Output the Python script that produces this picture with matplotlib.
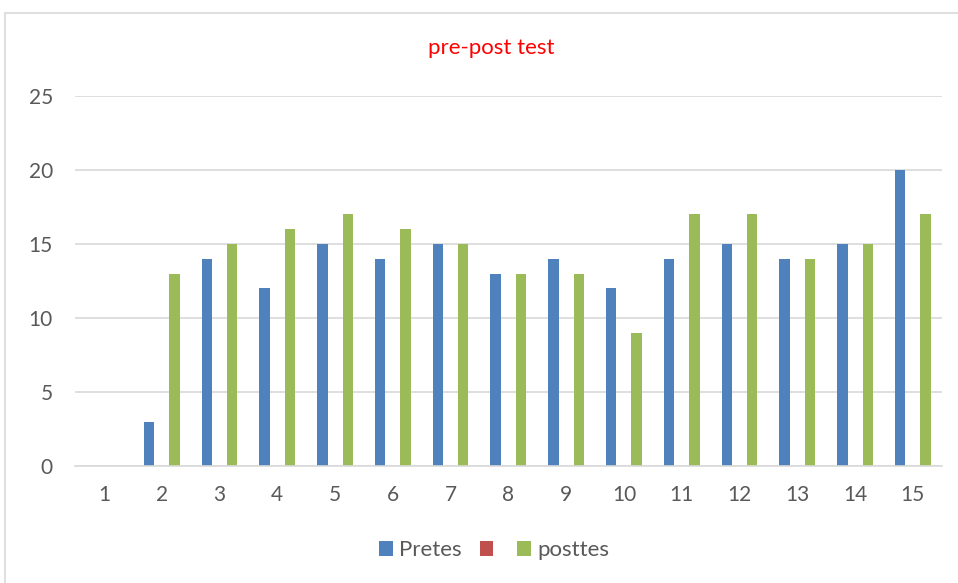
import numpy as np
import matplotlib.pyplot as plt
from matplotlib.patches import Rectangle

categories = [str(i) for i in range(1, 16)]
pretes = [0, 3, 14, 12, 15, 14, 15, 13, 14, 12, 14, 15, 14, 15, 20]
unnamed = [0] * 15
posttes = [0, 13, 15, 16, 17, 16, 15, 13, 13, 9, 17, 17, 14, 15, 17]
series_labels = ['Pretes', '', 'posttes']


def main():
    plt.rcParams['font.family'] = ['Lato', 'DejaVu Sans']
    fig = plt.figure(figsize=(9.58, 5.83), dpi=100)
    ax = fig.add_axes([0.0783, 0.2007, 0.9047, 0.6346])

    # outer chart border
    fig.patches.append(Rectangle((5 / 958, -0.01), 1.0, 1 - 13 / 583 + 0.01,
                                 transform=fig.transFigure, fill=False,
                                 edgecolor='#d9d9d9', linewidth=1.2))

    x = np.arange(len(categories))
    w = 0.18
    off = 0.22
    b1 = ax.bar(x - off, pretes, w, color='#4f81bd')
    b2 = ax.bar(x, unnamed, w, color='#c0504d')
    b3 = ax.bar(x + off, posttes, w, color='#9bbb59')

    ax.set_xlim(-0.5, len(categories) - 0.5)
    ax.set_ylim(0, 25)
    ax.set_yticks(range(0, 26, 5))
    ax.set_xticks(x)
    ax.set_xticklabels(categories)
    ax.yaxis.grid(True, color='#d9d9d9', linewidth=1.2)
    ax.set_axisbelow(True)
    for s in ['left', 'right', 'top']:
        ax.spines[s].set_visible(False)
    ax.spines['bottom'].set_color('#d9d9d9')
    ax.spines['bottom'].set_linewidth(1.2)
    ax.tick_params(length=0, labelsize=15, colors='#595959')
    ax.tick_params(axis='x', pad=14)
    ax.tick_params(axis='y', pad=16)

    fig.text(0.513, 0.917, 'pre-post test', color='red', fontsize=16,
             ha='center', va='center')

    fig.legend([b1, b2, b3], series_labels, loc='center', ncol=3,
               bbox_to_anchor=(0.516, 0.056), frameon=False, fontsize=16,
               handlelength=0.6, handleheight=0.6, handletextpad=0.3,
               columnspacing=0.8, labelcolor='#595959')

    fig.savefig('out.png', dpi=100)


if __name__ == "__main__":
    main()
